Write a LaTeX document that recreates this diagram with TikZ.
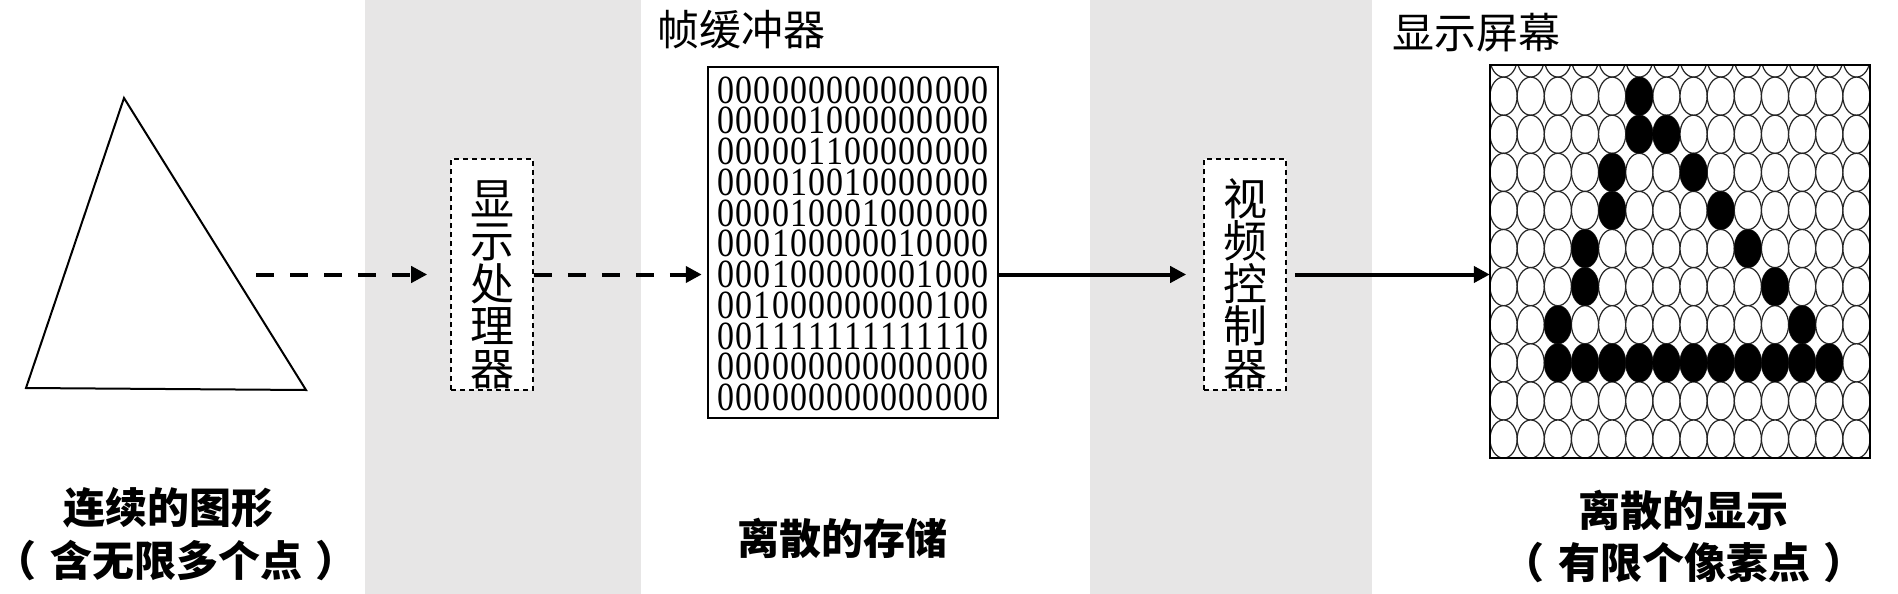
\documentclass[tikz,border=0pt]{standalone}
\usepackage{fontspec}
\setmainfont{Noto Sans CJK SC}
\newfontfamily\digitfont{Liberation Serif}[FakeStretch=0.85]
\usetikzlibrary{arrows.meta}
\definecolor{bandgray}{HTML}{E7E6E6}
% one row of the frame buffer, every digit in a cell of its own
\newcommand\bitrow[1]{\bitcell#1\relax}
\newcommand\bitcell[1]{\ifx\relax#1\else\makebox[18.1pt]{#1}\expandafter\bitcell\fi}
\tikzset{
	dashbox/.style={draw, line width=1.6pt, dash pattern=on 5pt off 4pt, fill=white,
		minimum width=82pt, minimum height=231pt, inner sep=0pt},
	vtext/.style={font=\fontsize{44}{42.5}\selectfont, align=center, inner sep=0pt, anchor=north},
	flow/.style={line width=4pt, -{Triangle[length=16pt,width=16pt]}},
	dashflow/.style={flow, dash pattern=on 18pt off 16pt},
	digits/.style={inner sep=0pt, align=center, font=\digitfont\fontsize{40}{30.75}\selectfont},
	pixel/.style={draw=black!85, line width=1.2pt, fill=white},
	onpixel/.style={fill=black},
	title/.style={inner sep=0pt, font=\fontsize{42}{42}\selectfont},
	caption/.style={inner sep=0pt, font=\fontsize{42}{42}\bfseries\selectfont}
}

\begin{document}
\begin{tikzpicture}[x=1pt, y=-1pt]
	\fill [white] (0, 0) rectangle (1898, 594);
	\useasboundingbox (0, 0) rectangle (1898, 594);
	%% bands
	\fill [bandgray] (365, 0) rectangle (641, 594);
	\fill [bandgray] (1090, 0) rectangle (1372, 594);
	% nodes
	\coordinate (tria) at (124, 98);
	\coordinate (trib) at (26, 388);
	\coordinate (tric) at (306, 390);
	\coordinate (triout) at (256, 274.5);
	\node [dashbox] (proc) at (492, 274.5) {};
	\node [draw, line width=2.5pt, minimum width=290pt, minimum height=351pt] (buffer) at (853, 242.5) {};
	\node [dashbox] (ctrl) at (1245, 274.5) {};
	\node [minimum width=380pt, minimum height=393pt, inner sep=0pt] (screen) at (1680, 261.5) {};
	\node [title] (buftitle) at (741, 30) {帧缓冲器};
	\node [title] (scrtitle) at (1476, 33) {显示屏幕};
	\node [caption] (tricap) at (168, 508) {连续的图形};
	\node [caption] (tricapb) at (176, 561) {（\hspace{0.33em}含无限多个点\hspace{0.33em}）};
	\node [caption] (bufcap) at (842, 538) {离散的存储};
	\node [caption] (scrcap) at (1683, 510) {离散的显示};
	\node [caption] (scrcapb) at (1684, 563) {（\hspace{0.33em}有限个像素点\hspace{0.33em}）};
	%% box texts
	\begin{scope}
		\clip (proc.south west) rectangle (proc.north east);
		\node [vtext] (proctext) at ([yshift=-22pt]proc.north) {显\\示\\处\\理\\器};
	\end{scope}
	\begin{scope}
		\clip (ctrl.south west) rectangle (ctrl.north east);
		\node [vtext] (ctrltext) at ([yshift=-20pt]ctrl.north) {视\\频\\控\\制\\器};
	\end{scope}
	%% frame buffer
	\node [digits] (bits) at (853, 243.75) {\bitrow{000000000000000}\\\bitrow{000001000000000}\\
		\bitrow{000001100000000}\\\bitrow{000010010000000}\\\bitrow{000010001000000}\\
		\bitrow{000100000010000}\\\bitrow{000100000001000}\\\bitrow{001000000000100}\\
		\bitrow{001111111111110}\\\bitrow{000000000000000}\\\bitrow{000000000000000}};
	%% screen
	\begin{scope}
		\clip (screen.south west) rectangle (screen.north east);
		\foreach \i in {0,...,13}
			\foreach \j in {0,...,10}
				\draw [pixel] ({1490+27.143*(\i+0.5)}, {58.05+38.1*\j}) ellipse [x radius=13.57pt, y radius=19.05pt];
		\foreach \i/\j in {5/1, 5/2, 6/2, 4/3, 7/3, 4/4, 8/4, 3/5, 9/5, 3/6, 10/6, 2/7, 11/7,
			2/8, 3/8, 4/8, 5/8, 6/8, 7/8, 8/8, 9/8, 10/8, 11/8, 12/8}
			\fill [onpixel] ({1490+27.143*(\i+0.5)}, {58.05+38.1*\j}) ellipse [x radius=13.57pt, y radius=19.05pt];
	\end{scope}
	\draw [line width=2pt] (screen.south west) rectangle (screen.north east);
	% edges
	\draw [line width=2pt, line join=miter] (tria) to (trib) to (tric) -- cycle;
	\draw [dashflow, shorten >=23pt] (triout) to (proc.west);
	\draw [dashflow, shorten >=5pt] (proc.east) to (proc.east -| buffer.west);
	\draw [flow, shorten >=17pt] (ctrl.west -| buffer.east) to (ctrl.west);
	\draw [flow, shorten <=8pt] (ctrl.east) to (ctrl.east -| screen.west);
\end{tikzpicture}
\end{document}
